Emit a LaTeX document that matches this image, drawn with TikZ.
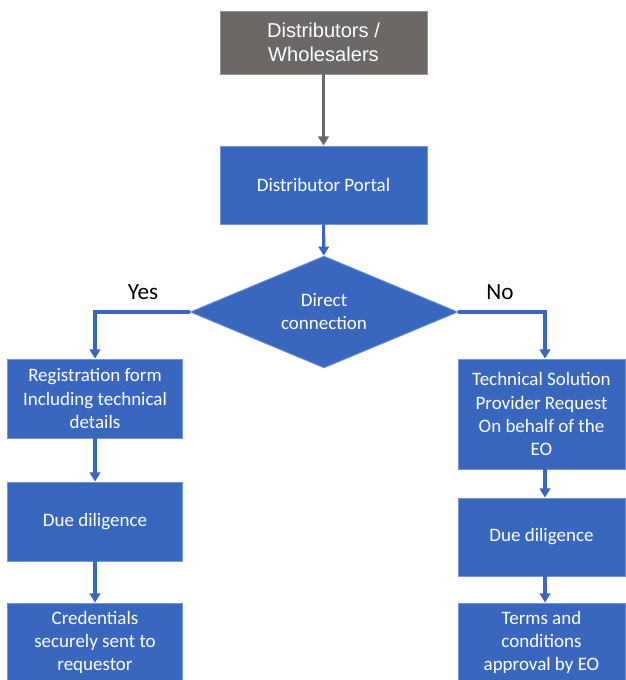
\documentclass[tikz,border=0pt]{standalone}
\usepackage{fontspec}
\setmainfont{Carlito}
\newfontfamily\helvfont{Liberation Sans}
\usepackage{tikz}
\usetikzlibrary{arrows.meta,positioning,shapes.geometric}
\usepackage{xcolor}
\definecolor{OfficeBlue}{HTML}{3A67BE}
\definecolor{SlateGrey}{HTML}{6B6866}

\tikzset{
  stepbox/.style={draw=OfficeBlue!70!white,line width=0.6pt,fill=OfficeBlue,text=white,
    align=center,inner sep=0pt,font=\fontsize{13.5}{16.4}\selectfont},
  flow/.style={-{Triangle[width=7.5pt,length=6.5pt]},line width=2.2pt,OfficeBlue},
}

\begin{document}
\begin{tikzpicture}[x=0.025cm,y=-0.025cm]
  \useasboundingbox (0,0) rectangle (626,680);
  \node[stepbox,fill=SlateGrey,draw=SlateGrey!70!white,minimum width=207*0.025cm,minimum height=63*0.025cm,
    font=\helvfont\fontsize{14.3}{17.5}\selectfont] (src) at (323.5,42.5) {Distributors /\\Wholesalers};
  \node[stepbox,minimum width=207*0.025cm,minimum height=78*0.025cm] (portal) at (323.5,185) {Distributor Portal};
  \node[stepbox,diamond,aspect=2.4,minimum width=268*0.025cm,minimum height=112*0.025cm] (direct) at (324,312) {Direct\\connection};

  % direct connection branch
  \node[stepbox,minimum width=175*0.025cm,minimum height=79*0.025cm] (regform) at (95,398.5) {Registration form\\Including technical\\details};
  \node[stepbox,minimum width=175*0.025cm,minimum height=79*0.025cm] (dueleft) at (95,521.5) {Due diligence};
  \node[stepbox,minimum width=175*0.025cm,minimum height=79*0.025cm] (creds) at (95,642.5) {Credentials\\securely sent to\\requestor};

  % via technical solution provider
  \node[stepbox,minimum width=167*0.025cm,minimum height=110*0.025cm] (tsp) at (541.5,414) {Technical Solution\\Provider Request\\On behalf of the\\EO};
  \node[stepbox,minimum width=167*0.025cm,minimum height=78*0.025cm] (dueright) at (541.5,537) {Due diligence};
  \node[stepbox,minimum width=167*0.025cm,minimum height=79*0.025cm] (terms) at (541.5,642.5) {Terms and\\conditions\\approval by EO};

  \node[font=\fontsize{16.5}{20}\selectfont] (yes) at (143,292) {Yes};
  \node[font=\fontsize{16.5}{20}\selectfont] (no) at (500,292) {No};

  \draw[flow,SlateGrey] (src) -- (portal);
  \draw[flow] (portal) -- (direct);
  \draw[flow] (direct.west) -| (regform.north);
  \draw[flow] (direct.east) -| ([xshift=3.5*0.025cm]tsp.north);
  \draw[flow] (regform) -- (dueleft);
  \draw[flow] (dueleft) -- (creds);
  \draw[flow] ([xshift=3.5*0.025cm]tsp.south) -- ([xshift=3.5*0.025cm]dueright.north);
  \draw[flow] ([xshift=3.5*0.025cm]dueright.south) -- ([xshift=3.5*0.025cm]terms.north);
\end{tikzpicture}
\end{document}
